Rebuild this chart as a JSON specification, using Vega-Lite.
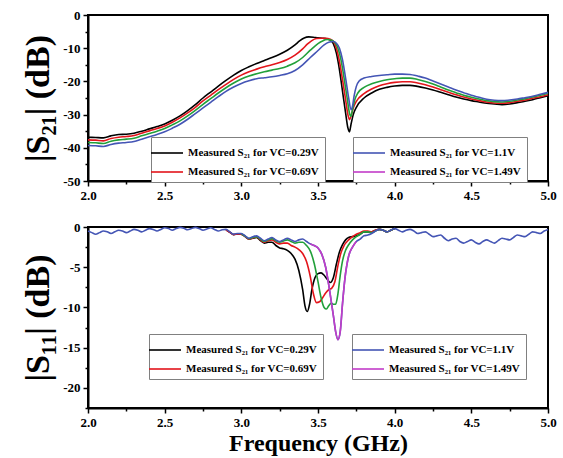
{
"$schema": "https://vega.github.io/schema/vega-lite/v6.json",
"background": "white",
"padding": {"left": 20, "top": 8, "right": 12, "bottom": 2},
"config": {
  "view": {"stroke": "black", "strokeWidth": 2},
  "font": "Liberation Serif",
  "axis": {"domainColor": "black", "domainWidth": 2, "tickColor": "black", "tickWidth": 1.5, "labelFont": "Liberation Serif", "labelFontWeight": "bold", "labelFontSize": 13, "labelColor": "black", "grid": false, "labelFlush": false, "labelOverlap": false, "titleFont": "Liberation Serif", "titleFontWeight": "bold", "titleColor": "black", "labelPadding": 3},
  "legend": {"orient": "none", "title": null, "symbolType": "M-1.6,0H1.6", "symbolSize": 400, "symbolStrokeWidth": 1.6, "labelOffset": 10, "strokeColor": "#808080", "fillColor": "white", "padding": 5, "rowPadding": 3, "labelFont": "Liberation Serif", "labelFontWeight": "bold", "labelFontSize": 11, "labelColor": "black"}
},
"datasets": {
"s21": [
{"s":"k","f":2.0,"v":-36.8},{"s":"k","f":2.05,"v":-36.9},{"s":"k","f":2.1,"v":-37.0},{"s":"k","f":2.15,"v":-36.4},{"s":"k","f":2.2,"v":-36.0},{"s":"k","f":2.25,"v":-35.9},{"s":"k","f":2.3,"v":-35.6},{"s":"k","f":2.35,"v":-35.0},{"s":"k","f":2.4,"v":-34.3},{"s":"k","f":2.45,"v":-33.6},{"s":"k","f":2.5,"v":-32.8},{"s":"k","f":2.55,"v":-31.7},{"s":"k","f":2.6,"v":-30.4},{"s":"k","f":2.65,"v":-28.8},{"s":"k","f":2.7,"v":-27.0},{"s":"k","f":2.75,"v":-25.0},{"s":"k","f":2.8,"v":-23.2},{"s":"k","f":2.85,"v":-21.4},{"s":"k","f":2.9,"v":-19.7},{"s":"k","f":2.95,"v":-18.1},{"s":"k","f":3.0,"v":-16.7},{"s":"k","f":3.05,"v":-15.6},{"s":"k","f":3.1,"v":-14.6},{"s":"k","f":3.15,"v":-13.7},{"s":"k","f":3.2,"v":-12.8},{"s":"k","f":3.25,"v":-11.8},{"s":"k","f":3.3,"v":-10.6},{"s":"k","f":3.35,"v":-9.0},{"s":"k","f":3.38,"v":-7.8},{"s":"k","f":3.41,"v":-6.9},{"s":"k","f":3.44,"v":-6.6},{"s":"k","f":3.47,"v":-6.7},{"s":"k","f":3.5,"v":-6.9},{"s":"k","f":3.53,"v":-7.0},{"s":"k","f":3.56,"v":-7.2},{"s":"k","f":3.58,"v":-7.6},{"s":"k","f":3.6,"v":-8.6},{"s":"k","f":3.62,"v":-11.5},{"s":"k","f":3.64,"v":-16.5},{"s":"k","f":3.66,"v":-23.0},{"s":"k","f":3.68,"v":-29.5},{"s":"k","f":3.695,"v":-34.0},{"s":"k","f":3.705,"v":-35.2},{"s":"k","f":3.715,"v":-33.0},{"s":"k","f":3.73,"v":-30.0},{"s":"k","f":3.75,"v":-27.8},{"s":"k","f":3.8,"v":-25.0},{"s":"k","f":3.85,"v":-23.5},{"s":"k","f":3.9,"v":-22.4},{"s":"k","f":3.95,"v":-21.8},{"s":"k","f":4.0,"v":-21.4},{"s":"k","f":4.05,"v":-21.2},{"s":"k","f":4.1,"v":-21.2},{"s":"k","f":4.15,"v":-21.5},{"s":"k","f":4.2,"v":-22.0},{"s":"k","f":4.25,"v":-22.6},{"s":"k","f":4.3,"v":-23.3},{"s":"k","f":4.35,"v":-24.0},{"s":"k","f":4.4,"v":-24.7},{"s":"k","f":4.45,"v":-25.3},{"s":"k","f":4.5,"v":-25.8},{"s":"k","f":4.55,"v":-26.2},{"s":"k","f":4.6,"v":-26.6},{"s":"k","f":4.65,"v":-26.8},{"s":"k","f":4.7,"v":-27.0},{"s":"k","f":4.75,"v":-26.8},{"s":"k","f":4.8,"v":-26.4},{"s":"k","f":4.85,"v":-26.0},{"s":"k","f":4.9,"v":-25.5},{"s":"k","f":4.95,"v":-24.9},{"s":"k","f":5.0,"v":-24.3},
{"s":"r","f":2.0,"v":-37.6},{"s":"r","f":2.05,"v":-37.7},{"s":"r","f":2.1,"v":-37.9},{"s":"r","f":2.15,"v":-37.2},{"s":"r","f":2.2,"v":-36.8},{"s":"r","f":2.25,"v":-36.6},{"s":"r","f":2.3,"v":-36.3},{"s":"r","f":2.35,"v":-35.6},{"s":"r","f":2.4,"v":-34.9},{"s":"r","f":2.45,"v":-34.2},{"s":"r","f":2.5,"v":-33.4},{"s":"r","f":2.55,"v":-32.3},{"s":"r","f":2.6,"v":-31.0},{"s":"r","f":2.65,"v":-29.5},{"s":"r","f":2.7,"v":-27.8},{"s":"r","f":2.75,"v":-25.9},{"s":"r","f":2.8,"v":-24.2},{"s":"r","f":2.85,"v":-22.5},{"s":"r","f":2.9,"v":-20.9},{"s":"r","f":2.95,"v":-19.4},{"s":"r","f":3.0,"v":-18.1},{"s":"r","f":3.05,"v":-17.1},{"s":"r","f":3.1,"v":-16.3},{"s":"r","f":3.15,"v":-15.6},{"s":"r","f":3.2,"v":-15.0},{"s":"r","f":3.25,"v":-14.3},{"s":"r","f":3.3,"v":-13.4},{"s":"r","f":3.35,"v":-12.1},{"s":"r","f":3.4,"v":-10.2},{"s":"r","f":3.43,"v":-8.8},{"s":"r","f":3.46,"v":-7.7},{"s":"r","f":3.49,"v":-7.1},{"s":"r","f":3.52,"v":-7.0},{"s":"r","f":3.55,"v":-7.0},{"s":"r","f":3.58,"v":-7.3},{"s":"r","f":3.6,"v":-7.9},{"s":"r","f":3.62,"v":-10.0},{"s":"r","f":3.64,"v":-14.0},{"s":"r","f":3.66,"v":-19.5},{"s":"r","f":3.68,"v":-25.5},{"s":"r","f":3.695,"v":-30.0},{"s":"r","f":3.705,"v":-31.5},{"s":"r","f":3.715,"v":-30.5},{"s":"r","f":3.73,"v":-28.0},{"s":"r","f":3.75,"v":-26.0},{"s":"r","f":3.8,"v":-23.7},{"s":"r","f":3.85,"v":-22.3},{"s":"r","f":3.9,"v":-21.3},{"s":"r","f":3.95,"v":-20.7},{"s":"r","f":4.0,"v":-20.3},{"s":"r","f":4.05,"v":-20.1},{"s":"r","f":4.1,"v":-20.1},{"s":"r","f":4.15,"v":-20.5},{"s":"r","f":4.2,"v":-21.0},{"s":"r","f":4.25,"v":-21.7},{"s":"r","f":4.3,"v":-22.5},{"s":"r","f":4.35,"v":-23.3},{"s":"r","f":4.4,"v":-24.0},{"s":"r","f":4.45,"v":-24.7},{"s":"r","f":4.5,"v":-25.3},{"s":"r","f":4.55,"v":-25.8},{"s":"r","f":4.6,"v":-26.2},{"s":"r","f":4.65,"v":-26.5},{"s":"r","f":4.7,"v":-26.6},{"s":"r","f":4.75,"v":-26.4},{"s":"r","f":4.8,"v":-26.0},{"s":"r","f":4.85,"v":-25.6},{"s":"r","f":4.9,"v":-25.1},{"s":"r","f":4.95,"v":-24.6},{"s":"r","f":5.0,"v":-24.0},
{"s":"g","f":2.0,"v":-38.4},{"s":"g","f":2.05,"v":-38.5},{"s":"g","f":2.1,"v":-38.7},{"s":"g","f":2.15,"v":-38.0},{"s":"g","f":2.2,"v":-37.6},{"s":"g","f":2.25,"v":-37.4},{"s":"g","f":2.3,"v":-37.1},{"s":"g","f":2.35,"v":-36.4},{"s":"g","f":2.4,"v":-35.7},{"s":"g","f":2.45,"v":-35.0},{"s":"g","f":2.5,"v":-34.2},{"s":"g","f":2.55,"v":-33.1},{"s":"g","f":2.6,"v":-31.9},{"s":"g","f":2.65,"v":-30.4},{"s":"g","f":2.7,"v":-28.7},{"s":"g","f":2.75,"v":-26.9},{"s":"g","f":2.8,"v":-25.2},{"s":"g","f":2.85,"v":-23.5},{"s":"g","f":2.9,"v":-21.9},{"s":"g","f":2.95,"v":-20.5},{"s":"g","f":3.0,"v":-19.3},{"s":"g","f":3.05,"v":-18.4},{"s":"g","f":3.1,"v":-17.7},{"s":"g","f":3.15,"v":-17.1},{"s":"g","f":3.2,"v":-16.6},{"s":"g","f":3.25,"v":-16.1},{"s":"g","f":3.3,"v":-15.4},{"s":"g","f":3.35,"v":-14.4},{"s":"g","f":3.4,"v":-12.8},{"s":"g","f":3.45,"v":-10.6},{"s":"g","f":3.5,"v":-8.6},{"s":"g","f":3.53,"v":-7.8},{"s":"g","f":3.56,"v":-7.4},{"s":"g","f":3.59,"v":-7.6},{"s":"g","f":3.61,"v":-8.3},{"s":"g","f":3.63,"v":-10.0},{"s":"g","f":3.65,"v":-13.5},{"s":"g","f":3.67,"v":-19.0},{"s":"g","f":3.69,"v":-25.0},{"s":"g","f":3.705,"v":-29.5},{"s":"g","f":3.715,"v":-30.5},{"s":"g","f":3.725,"v":-28.5},{"s":"g","f":3.74,"v":-25.5},{"s":"g","f":3.76,"v":-23.5},{"s":"g","f":3.8,"v":-21.8},{"s":"g","f":3.85,"v":-20.7},{"s":"g","f":3.9,"v":-20.0},{"s":"g","f":3.95,"v":-19.5},{"s":"g","f":4.0,"v":-19.2},{"s":"g","f":4.05,"v":-19.0},{"s":"g","f":4.1,"v":-19.0},{"s":"g","f":4.15,"v":-19.4},{"s":"g","f":4.2,"v":-20.0},{"s":"g","f":4.25,"v":-20.8},{"s":"g","f":4.3,"v":-21.7},{"s":"g","f":4.35,"v":-22.6},{"s":"g","f":4.4,"v":-23.4},{"s":"g","f":4.45,"v":-24.2},{"s":"g","f":4.5,"v":-24.8},{"s":"g","f":4.55,"v":-25.3},{"s":"g","f":4.6,"v":-25.8},{"s":"g","f":4.65,"v":-26.1},{"s":"g","f":4.7,"v":-26.2},{"s":"g","f":4.75,"v":-26.0},{"s":"g","f":4.8,"v":-25.6},{"s":"g","f":4.85,"v":-25.2},{"s":"g","f":4.9,"v":-24.7},{"s":"g","f":4.95,"v":-24.2},{"s":"g","f":5.0,"v":-23.6},
{"s":"b","f":2.0,"v":-39.3},{"s":"b","f":2.05,"v":-39.4},{"s":"b","f":2.1,"v":-39.6},{"s":"b","f":2.15,"v":-39.0},{"s":"b","f":2.2,"v":-38.6},{"s":"b","f":2.25,"v":-38.4},{"s":"b","f":2.3,"v":-38.1},{"s":"b","f":2.35,"v":-37.4},{"s":"b","f":2.4,"v":-36.7},{"s":"b","f":2.45,"v":-36.0},{"s":"b","f":2.5,"v":-35.2},{"s":"b","f":2.55,"v":-34.1},{"s":"b","f":2.6,"v":-32.9},{"s":"b","f":2.65,"v":-31.4},{"s":"b","f":2.7,"v":-29.7},{"s":"b","f":2.75,"v":-28.0},{"s":"b","f":2.8,"v":-26.3},{"s":"b","f":2.85,"v":-24.6},{"s":"b","f":2.9,"v":-23.0},{"s":"b","f":2.95,"v":-21.7},{"s":"b","f":3.0,"v":-20.6},{"s":"b","f":3.05,"v":-19.8},{"s":"b","f":3.1,"v":-19.2},{"s":"b","f":3.15,"v":-18.9},{"s":"b","f":3.2,"v":-18.6},{"s":"b","f":3.25,"v":-18.2},{"s":"b","f":3.3,"v":-17.7},{"s":"b","f":3.35,"v":-16.7},{"s":"b","f":3.4,"v":-15.0},{"s":"b","f":3.45,"v":-12.8},{"s":"b","f":3.5,"v":-10.7},{"s":"b","f":3.54,"v":-9.0},{"s":"b","f":3.57,"v":-8.2},{"s":"b","f":3.6,"v":-8.0},{"s":"b","f":3.62,"v":-8.5},{"s":"b","f":3.64,"v":-10.0},{"s":"b","f":3.66,"v":-13.5},{"s":"b","f":3.68,"v":-19.0},{"s":"b","f":3.7,"v":-25.0},{"s":"b","f":3.715,"v":-28.5},{"s":"b","f":3.725,"v":-27.5},{"s":"b","f":3.735,"v":-24.5},{"s":"b","f":3.75,"v":-21.5},{"s":"b","f":3.77,"v":-19.8},{"s":"b","f":3.8,"v":-19.0},{"s":"b","f":3.85,"v":-18.5},{"s":"b","f":3.9,"v":-18.2},{"s":"b","f":3.95,"v":-18.0},{"s":"b","f":4.0,"v":-17.8},{"s":"b","f":4.05,"v":-17.8},{"s":"b","f":4.1,"v":-17.9},{"s":"b","f":4.15,"v":-18.4},{"s":"b","f":4.2,"v":-19.0},{"s":"b","f":4.25,"v":-19.9},{"s":"b","f":4.3,"v":-20.8},{"s":"b","f":4.35,"v":-21.7},{"s":"b","f":4.4,"v":-22.6},{"s":"b","f":4.45,"v":-23.4},{"s":"b","f":4.5,"v":-24.2},{"s":"b","f":4.55,"v":-24.8},{"s":"b","f":4.6,"v":-25.4},{"s":"b","f":4.65,"v":-25.7},{"s":"b","f":4.7,"v":-25.8},{"s":"b","f":4.75,"v":-25.6},{"s":"b","f":4.8,"v":-25.3},{"s":"b","f":4.85,"v":-24.9},{"s":"b","f":4.9,"v":-24.5},{"s":"b","f":4.95,"v":-23.9},{"s":"b","f":5.0,"v":-23.3}
],
"s11": [
{"s":"k","f":2.9,"v":-0.35},{"s":"k","f":2.925,"v":-0.65},{"s":"k","f":2.95,"v":-0.95},{"s":"k","f":2.975,"v":-0.85},{"s":"k","f":3.0,"v":-0.9},{"s":"k","f":3.025,"v":-1.2},{"s":"k","f":3.05,"v":-1.5},{"s":"k","f":3.075,"v":-1.4},{"s":"k","f":3.1,"v":-1.3},{"s":"k","f":3.125,"v":-1.7},{"s":"k","f":3.15,"v":-2.0},{"s":"k","f":3.175,"v":-1.9},{"s":"k","f":3.2,"v":-1.9},{"s":"k","f":3.225,"v":-2.3},{"s":"k","f":3.25,"v":-2.6},{"s":"k","f":3.275,"v":-2.7},{"s":"k","f":3.3,"v":-2.9},{"s":"k","f":3.325,"v":-3.3},{"s":"k","f":3.35,"v":-4.0},{"s":"k","f":3.375,"v":-5.4},{"s":"k","f":3.4,"v":-7.8},{"s":"k","f":3.415,"v":-9.8},{"s":"k","f":3.43,"v":-10.5},{"s":"k","f":3.445,"v":-9.6},{"s":"k","f":3.46,"v":-7.8},{"s":"k","f":3.48,"v":-6.3},{"s":"k","f":3.5,"v":-5.8},{"s":"k","f":3.52,"v":-5.7},{"s":"k","f":3.54,"v":-6.0},{"s":"k","f":3.56,"v":-6.5},{"s":"k","f":3.58,"v":-6.9},{"s":"k","f":3.6,"v":-6.3},{"s":"k","f":3.62,"v":-4.6},{"s":"k","f":3.64,"v":-3.1},{"s":"k","f":3.66,"v":-2.2},{"s":"k","f":3.68,"v":-1.6},{"s":"k","f":3.7,"v":-1.3},{"s":"k","f":3.725,"v":-1.2},{"s":"k","f":3.75,"v":-1.1},{"s":"k","f":3.775,"v":-0.9},{"s":"k","f":3.8,"v":-0.6},{"s":"k","f":3.825,"v":-0.6},{"s":"k","f":3.85,"v":-0.6},{"s":"k","f":3.875,"v":-0.4},{"s":"k","f":3.9,"v":-0.3},{"s":"k","f":3.925,"v":-0.4},{"s":"k","f":3.95,"v":-0.6},{"s":"k","f":3.975,"v":-0.4},{"s":"k","f":4.0,"v":-0.2},
{"s":"r","f":2.9,"v":-0.35},{"s":"r","f":2.925,"v":-0.65},{"s":"r","f":2.95,"v":-0.95},{"s":"r","f":2.975,"v":-0.85},{"s":"r","f":3.0,"v":-0.9},{"s":"r","f":3.025,"v":-1.2},{"s":"r","f":3.05,"v":-1.5},{"s":"r","f":3.075,"v":-1.35},{"s":"r","f":3.1,"v":-1.25},{"s":"r","f":3.125,"v":-1.6},{"s":"r","f":3.15,"v":-1.9},{"s":"r","f":3.175,"v":-1.7},{"s":"r","f":3.2,"v":-1.6},{"s":"r","f":3.225,"v":-1.9},{"s":"r","f":3.25,"v":-2.1},{"s":"r","f":3.275,"v":-2.0},{"s":"r","f":3.3,"v":-2.0},{"s":"r","f":3.325,"v":-2.3},{"s":"r","f":3.35,"v":-2.5},{"s":"r","f":3.375,"v":-2.8},{"s":"r","f":3.4,"v":-3.3},{"s":"r","f":3.425,"v":-4.3},{"s":"r","f":3.45,"v":-6.2},{"s":"r","f":3.47,"v":-8.3},{"s":"r","f":3.49,"v":-9.4},{"s":"r","f":3.51,"v":-9.3},{"s":"r","f":3.53,"v":-8.8},{"s":"r","f":3.55,"v":-8.2},{"s":"r","f":3.57,"v":-7.8},{"s":"r","f":3.59,"v":-7.6},{"s":"r","f":3.61,"v":-6.8},{"s":"r","f":3.63,"v":-4.8},{"s":"r","f":3.65,"v":-3.2},{"s":"r","f":3.67,"v":-2.3},{"s":"r","f":3.7,"v":-1.6},{"s":"r","f":3.725,"v":-1.2},{"s":"r","f":3.75,"v":-0.9},{"s":"r","f":3.775,"v":-0.7},{"s":"r","f":3.8,"v":-0.5},{"s":"r","f":3.825,"v":-0.5},{"s":"r","f":3.85,"v":-0.6},{"s":"r","f":3.875,"v":-0.4},{"s":"r","f":3.9,"v":-0.3},{"s":"r","f":3.925,"v":-0.4},{"s":"r","f":3.95,"v":-0.6},{"s":"r","f":3.975,"v":-0.4},{"s":"r","f":4.0,"v":-0.2},
{"s":"g","f":3.0,"v":-0.85},{"s":"g","f":3.025,"v":-1.15},{"s":"g","f":3.05,"v":-1.45},{"s":"g","f":3.075,"v":-1.3},{"s":"g","f":3.1,"v":-1.2},{"s":"g","f":3.125,"v":-1.5},{"s":"g","f":3.15,"v":-1.8},{"s":"g","f":3.175,"v":-1.6},{"s":"g","f":3.2,"v":-1.45},{"s":"g","f":3.225,"v":-1.7},{"s":"g","f":3.25,"v":-1.9},{"s":"g","f":3.275,"v":-1.75},{"s":"g","f":3.3,"v":-1.6},{"s":"g","f":3.325,"v":-1.8},{"s":"g","f":3.35,"v":-2.0},{"s":"g","f":3.375,"v":-1.9},{"s":"g","f":3.4,"v":-1.9},{"s":"g","f":3.425,"v":-2.3},{"s":"g","f":3.45,"v":-3.0},{"s":"g","f":3.475,"v":-4.5},{"s":"g","f":3.5,"v":-6.8},{"s":"g","f":3.52,"v":-8.8},{"s":"g","f":3.54,"v":-10.0},{"s":"g","f":3.555,"v":-10.2},{"s":"g","f":3.57,"v":-9.8},{"s":"g","f":3.585,"v":-9.5},{"s":"g","f":3.6,"v":-9.6},{"s":"g","f":3.615,"v":-9.6},{"s":"g","f":3.63,"v":-8.3},{"s":"g","f":3.645,"v":-6.0},{"s":"g","f":3.66,"v":-4.2},{"s":"g","f":3.68,"v":-2.9},{"s":"g","f":3.7,"v":-2.2},{"s":"g","f":3.725,"v":-1.6},{"s":"g","f":3.75,"v":-1.2},{"s":"g","f":3.775,"v":-0.9},{"s":"g","f":3.8,"v":-0.6},{"s":"g","f":3.825,"v":-0.6},{"s":"g","f":3.85,"v":-0.7},{"s":"g","f":3.875,"v":-0.5},{"s":"g","f":3.9,"v":-0.3},{"s":"g","f":3.925,"v":-0.4},{"s":"g","f":3.95,"v":-0.6},{"s":"g","f":3.975,"v":-0.4},{"s":"g","f":4.0,"v":-0.2},
{"s":"b","f":2.0,"v":-0.5},{"s":"b","f":2.025,"v":-0.7},{"s":"b","f":2.05,"v":-0.9},{"s":"b","f":2.075,"v":-0.7},{"s":"b","f":2.1,"v":-0.5},{"s":"b","f":2.125,"v":-0.6},{"s":"b","f":2.15,"v":-0.8},{"s":"b","f":2.175,"v":-0.6},{"s":"b","f":2.2,"v":-0.4},{"s":"b","f":2.225,"v":-0.5},{"s":"b","f":2.25,"v":-0.7},{"s":"b","f":2.275,"v":-0.5},{"s":"b","f":2.3,"v":-0.3},{"s":"b","f":2.325,"v":-0.4},{"s":"b","f":2.35,"v":-0.6},{"s":"b","f":2.375,"v":-0.4},{"s":"b","f":2.4,"v":-0.2},{"s":"b","f":2.425,"v":-0.3},{"s":"b","f":2.45,"v":-0.5},{"s":"b","f":2.475,"v":-0.3},{"s":"b","f":2.5,"v":-0.1},{"s":"b","f":2.525,"v":-0.2},{"s":"b","f":2.55,"v":-0.4},{"s":"b","f":2.575,"v":-0.2},{"s":"b","f":2.6,"v":-0.05},{"s":"b","f":2.625,"v":-0.15},{"s":"b","f":2.65,"v":-0.35},{"s":"b","f":2.675,"v":-0.2},{"s":"b","f":2.7,"v":-0.05},{"s":"b","f":2.725,"v":-0.2},{"s":"b","f":2.75,"v":-0.4},{"s":"b","f":2.775,"v":-0.25},{"s":"b","f":2.8,"v":-0.1},{"s":"b","f":2.825,"v":-0.3},{"s":"b","f":2.85,"v":-0.5},{"s":"b","f":2.875,"v":-0.35},{"s":"b","f":2.9,"v":-0.3},{"s":"b","f":2.925,"v":-0.6},{"s":"b","f":2.95,"v":-0.9},{"s":"b","f":2.975,"v":-0.8},{"s":"b","f":3.0,"v":-0.8},{"s":"b","f":3.025,"v":-1.1},{"s":"b","f":3.05,"v":-1.4},{"s":"b","f":3.075,"v":-1.2},{"s":"b","f":3.1,"v":-1.1},{"s":"b","f":3.125,"v":-1.4},{"s":"b","f":3.15,"v":-1.7},{"s":"b","f":3.175,"v":-1.5},{"s":"b","f":3.2,"v":-1.3},{"s":"b","f":3.225,"v":-1.6},{"s":"b","f":3.25,"v":-1.8},{"s":"b","f":3.275,"v":-1.6},{"s":"b","f":3.3,"v":-1.4},{"s":"b","f":3.325,"v":-1.6},{"s":"b","f":3.35,"v":-1.8},{"s":"b","f":3.375,"v":-1.6},{"s":"b","f":3.4,"v":-1.5},{"s":"b","f":3.425,"v":-1.8},{"s":"b","f":3.45,"v":-2.1},{"s":"b","f":3.475,"v":-2.3},{"s":"b","f":3.5,"v":-2.6},{"s":"b","f":3.525,"v":-3.4},{"s":"b","f":3.55,"v":-5.0},{"s":"b","f":3.575,"v":-7.8},{"s":"b","f":3.6,"v":-11.0},{"s":"b","f":3.615,"v":-13.0},{"s":"b","f":3.63,"v":-14.0},{"s":"b","f":3.645,"v":-13.0},{"s":"b","f":3.66,"v":-9.5},{"s":"b","f":3.675,"v":-6.5},{"s":"b","f":3.7,"v":-3.6},{"s":"b","f":3.725,"v":-2.5},{"s":"b","f":3.75,"v":-1.8},{"s":"b","f":3.775,"v":-1.5},{"s":"b","f":3.8,"v":-1.1},{"s":"b","f":3.825,"v":-1.0},{"s":"b","f":3.85,"v":-0.8},{"s":"b","f":3.875,"v":-0.5},{"s":"b","f":3.9,"v":-0.3},{"s":"b","f":3.925,"v":-0.4},{"s":"b","f":3.95,"v":-0.6},{"s":"b","f":3.975,"v":-0.4},{"s":"b","f":4.0,"v":-0.2},{"s":"b","f":4.025,"v":-0.4},{"s":"b","f":4.05,"v":-0.6},{"s":"b","f":4.075,"v":-0.4},{"s":"b","f":4.1,"v":-0.3},{"s":"b","f":4.125,"v":-0.5},{"s":"b","f":4.15,"v":-0.8},{"s":"b","f":4.175,"v":-0.7},{"s":"b","f":4.2,"v":-0.6},{"s":"b","f":4.225,"v":-0.9},{"s":"b","f":4.25,"v":-1.2},{"s":"b","f":4.275,"v":-1.1},{"s":"b","f":4.3,"v":-1.0},{"s":"b","f":4.325,"v":-1.4},{"s":"b","f":4.35,"v":-1.7},{"s":"b","f":4.375,"v":-1.5},{"s":"b","f":4.4,"v":-1.4},{"s":"b","f":4.425,"v":-1.8},{"s":"b","f":4.45,"v":-2.0},{"s":"b","f":4.475,"v":-1.8},{"s":"b","f":4.5,"v":-1.6},{"s":"b","f":4.525,"v":-1.9},{"s":"b","f":4.55,"v":-2.1},{"s":"b","f":4.575,"v":-1.8},{"s":"b","f":4.6,"v":-1.6},{"s":"b","f":4.625,"v":-1.8},{"s":"b","f":4.65,"v":-2.0},{"s":"b","f":4.675,"v":-1.7},{"s":"b","f":4.7,"v":-1.4},{"s":"b","f":4.725,"v":-1.5},{"s":"b","f":4.75,"v":-1.6},{"s":"b","f":4.775,"v":-1.3},{"s":"b","f":4.8,"v":-1.0},{"s":"b","f":4.825,"v":-1.1},{"s":"b","f":4.85,"v":-1.2},{"s":"b","f":4.875,"v":-0.9},{"s":"b","f":4.9,"v":-0.6},{"s":"b","f":4.925,"v":-0.7},{"s":"b","f":4.95,"v":-0.8},{"s":"b","f":4.975,"v":-0.5},{"s":"b","f":5.0,"v":-0.3},
{"s":"m","f":3.45,"v":-2.1},{"s":"m","f":3.475,"v":-2.3},{"s":"m","f":3.5,"v":-2.6},{"s":"m","f":3.525,"v":-3.4},{"s":"m","f":3.55,"v":-5.0},{"s":"m","f":3.575,"v":-7.8},{"s":"m","f":3.6,"v":-11.0},{"s":"m","f":3.615,"v":-13.0},{"s":"m","f":3.63,"v":-14.0},{"s":"m","f":3.645,"v":-13.0},{"s":"m","f":3.66,"v":-9.5},{"s":"m","f":3.675,"v":-6.5},{"s":"m","f":3.7,"v":-3.6},{"s":"m","f":3.725,"v":-2.5},{"s":"m","f":3.75,"v":-1.8}
]
},
"spacing": 17,
"resolve": {"scale": {"color": "independent", "stroke": "independent", "y": "independent"}, "legend": {"color": "independent", "stroke": "independent"}},
"vconcat": [
{
  "width": 460, "height": 166,
  "data": {"name": "s21"},
  "encoding": {
    "x": {"field": "f", "type": "quantitative", "scale": {"domain": [2, 5], "nice": false, "zero": false},
      "axis": {"title": null, "values": [2, 2.25, 2.5, 2.75, 3, 3.25, 3.5, 3.75, 4, 4.25, 4.5, 4.75, 5], "labelExpr": "(datum.value * 4) % 2 == 0 ? format(datum.value, '.1f') : ''", "tickSize": {"condition": {"test": "(datum.value * 4) % 2 != 0", "value": 3}, "value": 5}}},
    "y": {"field": "v", "type": "quantitative", "scale": {"domain": [-50, 0], "nice": false, "zero": false},
      "axis": {"title": "|S₂₁| (dB)", "titleFontSize": 34, "titlePadding": 7, "values": [-50, -45, -40, -35, -30, -25, -20, -15, -10, -5, 0], "labelExpr": "datum.value % 10 == 0 ? '' + datum.value : ''", "tickSize": {"condition": {"test": "datum.value % 10 != 0", "value": 3}, "value": 5}}}
  },
  "layer": [
    {"transform": [{"filter": {"field": "s", "oneOf": ["k", "r", "g"]}}],
     "mark": {"type": "line", "strokeWidth": 1.6, "interpolate": "monotone"},
     "encoding": {"color": {"field": "s", "type": "nominal", "scale": {"domain": ["k", "r", "g"], "range": ["#000000", "#e3151b", "#22a03a"]}, "legend": {"values": ["k", "r"], "legendX": 63, "legendY": 122, "labelExpr": "datum.value == 'k' ? 'Measured S₂₁ for VC=0.29V' : 'Measured S₂₁ for VC=0.69V'"}}}},
    {"transform": [{"filter": {"field": "s", "oneOf": ["b", "m"]}}],
     "mark": {"type": "line", "strokeWidth": 1.6, "interpolate": "monotone"},
     "encoding": {"stroke": {"field": "s", "type": "nominal", "scale": {"domain": ["b", "m"], "range": ["#4455b5", "#c23cc8"]}, "legend": {"values": ["b", "m"], "legendX": 265, "legendY": 122, "labelExpr": "datum.value == 'b' ? 'Measured S₂₁ for VC=1.1V' : 'Measured S₂₁ for VC=1.49V'"}}}}
  ]
},
{
  "width": 460, "height": 181,
  "data": {"name": "s11"},
  "encoding": {
    "x": {"field": "f", "type": "quantitative", "scale": {"domain": [2, 5], "nice": false, "zero": false},
      "axis": {"title": "Frequency (GHz)", "titleFontSize": 24, "titlePadding": 2, "values": [2, 2.25, 2.5, 2.75, 3, 3.25, 3.5, 3.75, 4, 4.25, 4.5, 4.75, 5], "labelExpr": "(datum.value * 4) % 2 == 0 ? format(datum.value, '.1f') : ''", "tickSize": {"condition": {"test": "(datum.value * 4) % 2 != 0", "value": 3}, "value": 5}}},
    "y": {"field": "v", "type": "quantitative", "scale": {"domain": [-22.5, 0], "nice": false, "zero": false},
      "axis": {"title": "|S₁₁| (dB)", "titleFontSize": 34, "titlePadding": 7, "values": [-22.5, -20, -17.5, -15, -12.5, -10, -7.5, -5, -2.5, 0], "labelExpr": "datum.value % 5 == 0 ? '' + datum.value : ''", "tickSize": {"condition": {"test": "datum.value % 5 != 0", "value": 3}, "value": 5}}}
  },
  "layer": [
    {"transform": [{"filter": {"field": "s", "oneOf": ["k", "r", "g"]}}],
     "mark": {"type": "line", "strokeWidth": 1.6, "interpolate": "monotone"},
     "encoding": {"color": {"field": "s", "type": "nominal", "scale": {"domain": ["k", "r", "g"], "range": ["#000000", "#e3151b", "#22a03a"]}, "legend": {"values": ["k", "r"], "legendX": 61, "legendY": 107, "labelExpr": "datum.value == 'k' ? 'Measured S₂₁ for VC=0.29V' : 'Measured S₂₁ for VC=0.69V'"}}}},
    {"transform": [{"filter": {"field": "s", "oneOf": ["b", "m"]}}],
     "mark": {"type": "line", "strokeWidth": 1.6, "interpolate": "monotone"},
     "encoding": {"stroke": {"field": "s", "type": "nominal", "scale": {"domain": ["b", "m"], "range": ["#4455b5", "#c23cc8"]}, "legend": {"values": ["b", "m"], "legendX": 264, "legendY": 107, "labelExpr": "datum.value == 'b' ? 'Measured S₂₁ for VC=1.1V' : 'Measured S₂₁ for VC=1.49V'"}}}}
  ]
}
]
}
